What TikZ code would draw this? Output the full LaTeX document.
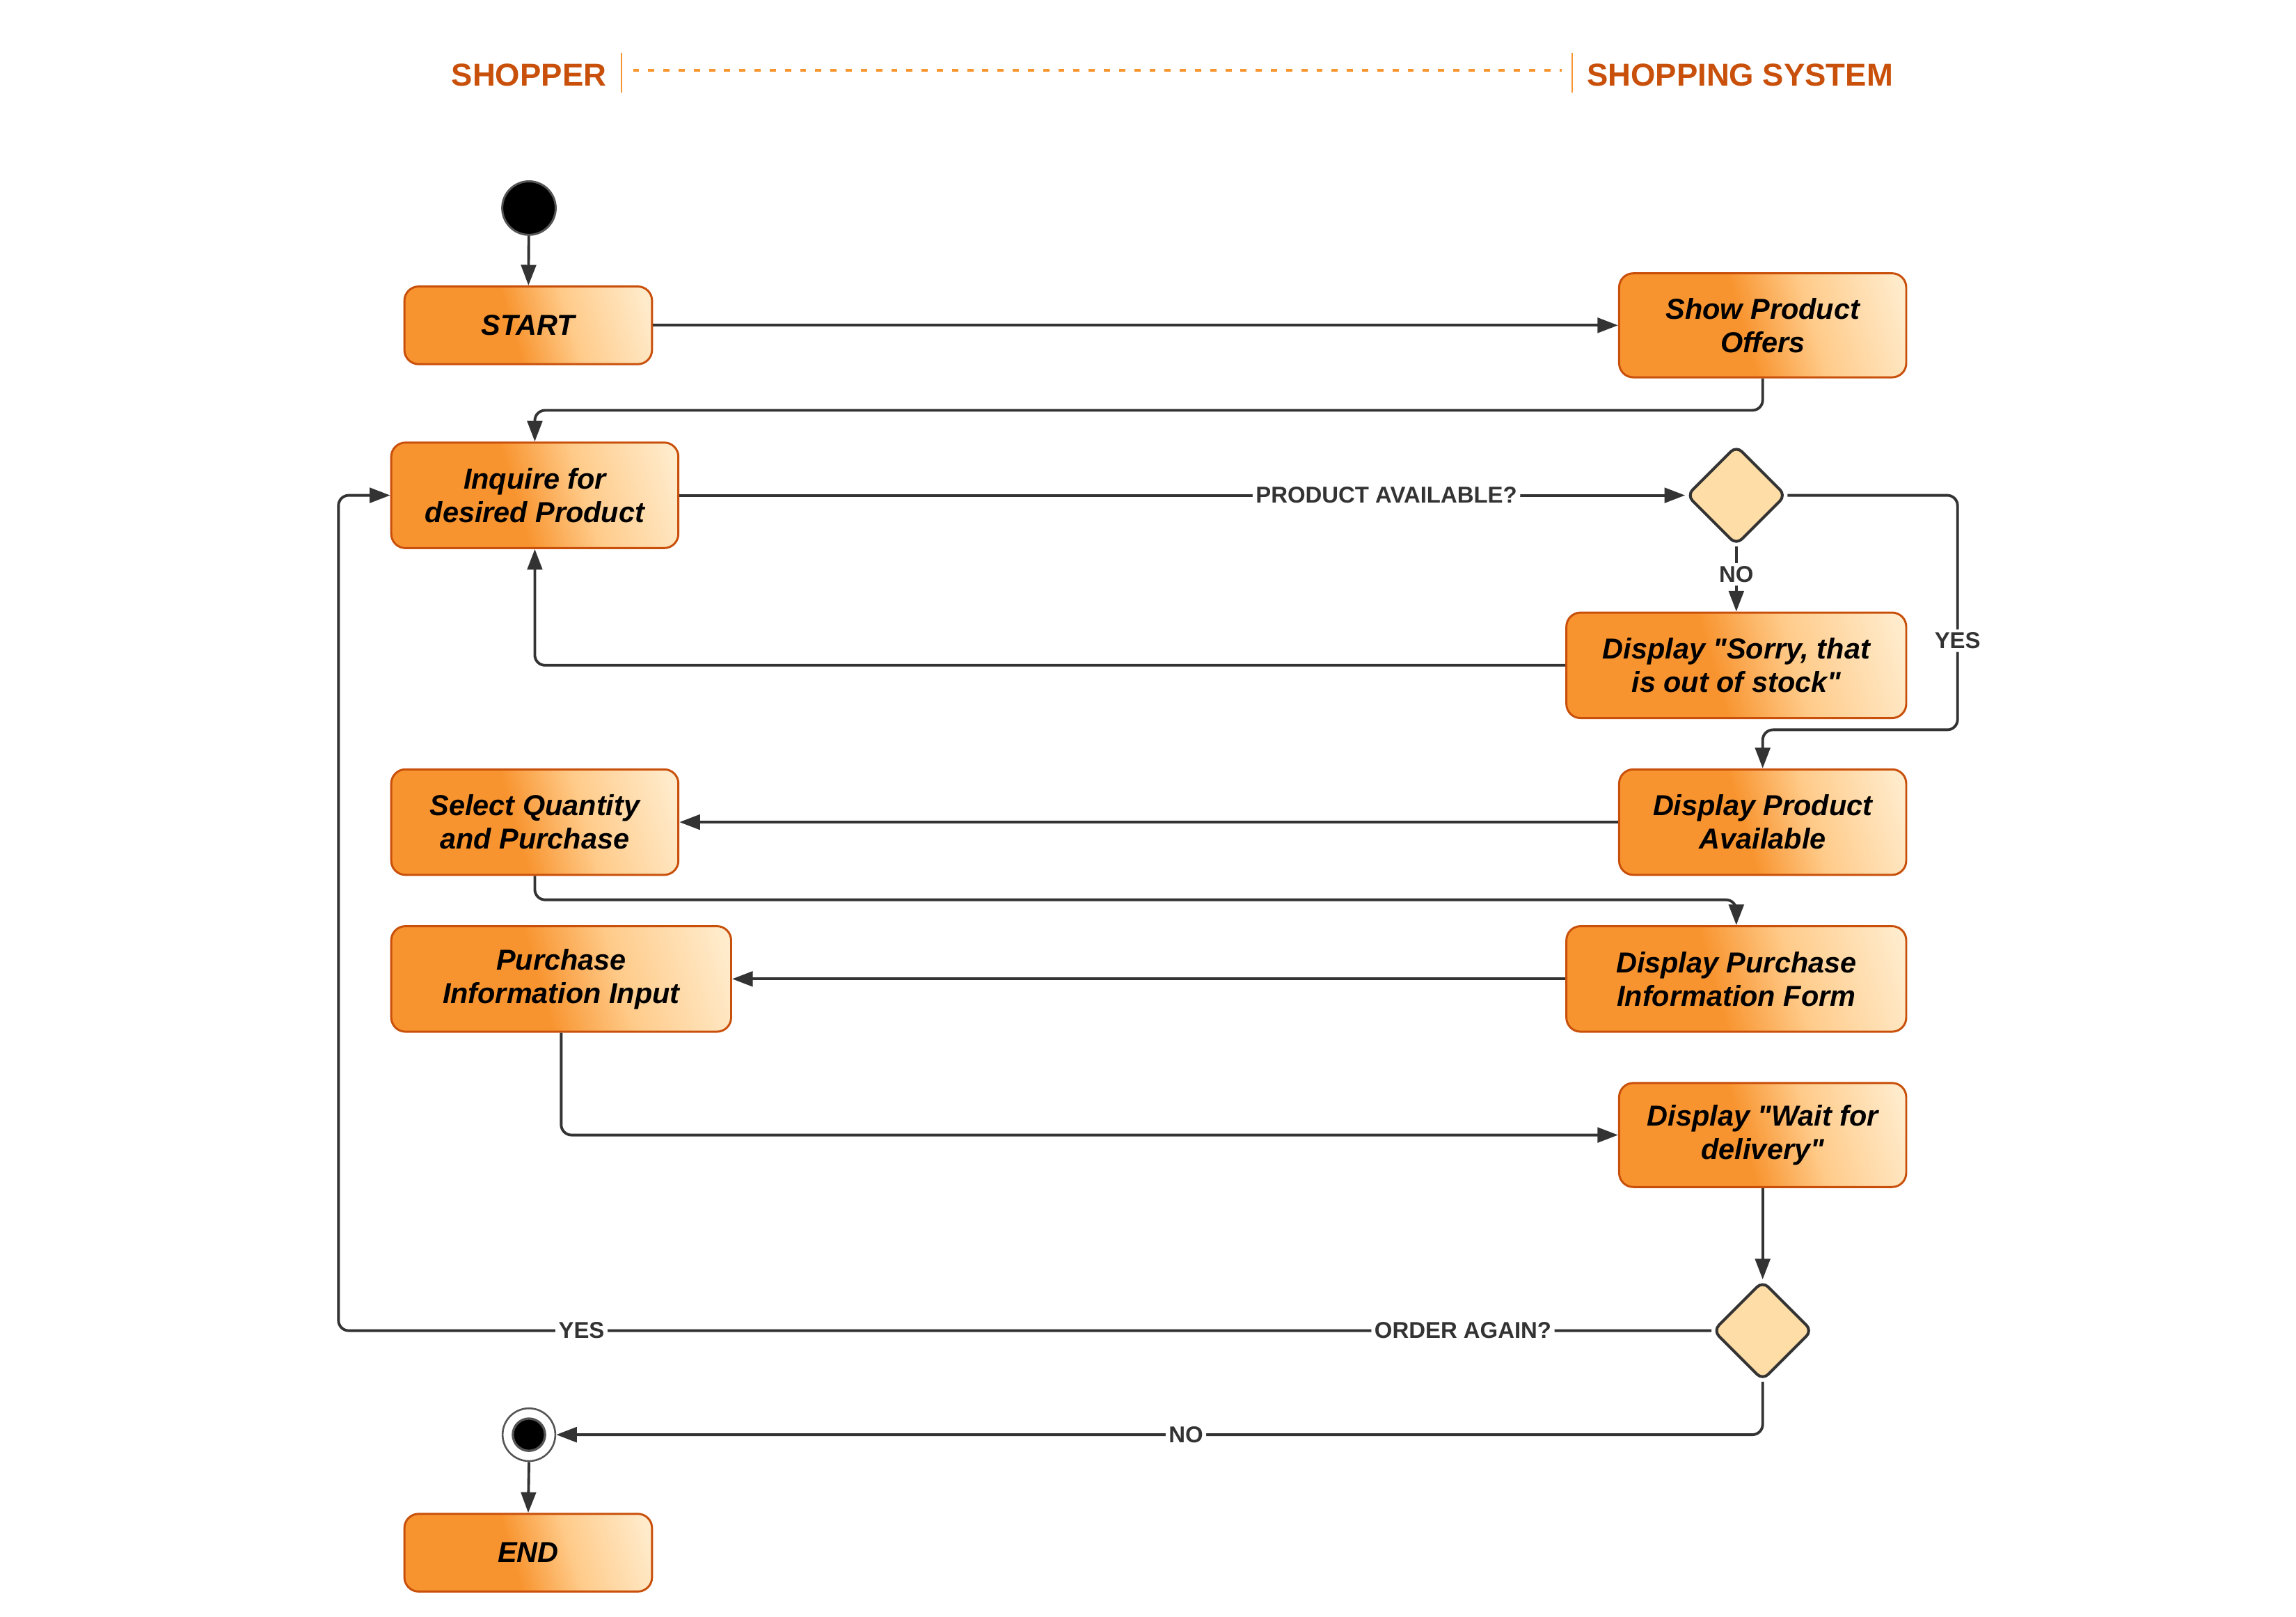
\documentclass[tikz,border=0pt]{standalone}
\usepackage{fontspec}
\setmainfont{Liberation Sans}
\usetikzlibrary{arrows.meta,shapes.geometric}
\definecolor{boxor}{HTML}{F8942F}
\definecolor{boxmid}{HTML}{FFCB8A}
\definecolor{boxcream}{HTML}{FFEDCF}
\definecolor{boxborder}{HTML}{C9500B}
\definecolor{hdr}{HTML}{C8500A}
\definecolor{hdrline}{HTML}{F7952F}
\definecolor{lnk}{HTML}{333333}
\definecolor{dfill}{HTML}{FFDDA6}
\definecolor{ringgray}{HTML}{555555}
\newcommand\strq{\XeTeXglyph\XeTeXcharglyph"22\relax}
\pgfdeclarehorizontalshading{boxgrad}{100bp}{color(0bp)=(boxor); color(46bp)=(boxor); color(60bp)=(boxmid); color(80bp)=(boxcream); color(100bp)=(boxcream)}
\tikzset{
  actbox/.style={rectangle, rounded corners=5.5pt, draw=boxborder, line width=0.8pt,
    shading=boxgrad, shading angle=16, align=center, inner sep=2pt,
    font=\fontsize{11.2}{13}\selectfont\bfseries\itshape, text=black},
  wbox/.style={actbox, minimum width=3.92cm, minimum height=1.44cm},
  wwbox/.style={actbox, minimum width=4.64cm, minimum height=1.44cm},
  sbox/.style={actbox, minimum width=3.38cm, minimum height=1.06cm},
  decis/.style={diamond, aspect=1, draw=lnk, line width=1.1pt, fill=dfill,
    rounded corners=3pt, minimum width=1.36cm, minimum height=1.36cm, inner sep=0pt},
  flow/.style={draw=lnk, line width=1.05pt, rounded corners=4pt,
    -{Triangle[length=8pt,width=5.8pt]}},
  lbl/.style={fill=white, inner sep=1.2pt, text=lnk,
    font=\fontsize{8.9}{10}\selectfont\bfseries},
  hdrtext/.style={text=hdr, font=\fontsize{12.3}{14}\selectfont\bfseries, inner sep=0pt},
}
\begin{document}
\begin{tikzpicture}[x=0.02cm, y=-0.02cm]
\useasboundingbox (0,0) rectangle (1567,1103.4);

% header
\node[hdrtext] (hshop) at (361,51) {SHOPPER};
\node[hdrtext] (hsys) at (1187.5,51) {SHOPPING SYSTEM};
\coordinate (b1t) at (424,36); \coordinate (b1b) at (424,63);
\coordinate (b2t) at (1073,36); \coordinate (b2b) at (1073,63);
\coordinate (dl) at (432,48); \coordinate (dr) at (1066,48);
\draw[hdrline, line width=0.6pt] (b1t) -- (b1b);
\draw[hdrline, line width=0.6pt] (b2t) -- (b2b);
\draw[hdrline, line width=1.1pt, dash pattern=on 2.4pt off 3.5pt] (dl) -- (dr);

% nodes
\node[circle, fill=black, draw=ringgray, line width=0.8pt, minimum size=0.73cm, inner sep=0pt] (sdot) at (361,142) {};
\node[sbox] (start) at (360.5,222) {START};
\node[actbox, minimum width=3.92cm, minimum height=1.42cm] (offers) at (1203,222) {Show Product\\Offers};
\node[wbox] (inq) at (365,338) {Inquire for\\desired Product};
\node[decis] (d1) at (1185,338) {};
\node[wwbox] (sorry) at (1185,454) {Display \strq Sorry, that\\is out of stock\strq};
\node[wbox] (dpa) at (1203,561) {Display Product\\Available};
\node[wbox] (sel) at (365,561) {Select Quantity\\and Purchase};
\node[wwbox] (dpif) at (1185,668) {Display Purchase\\Information Form};
\node[wwbox] (pii) at (383,668) {Purchase\\Information Input};
\node[actbox, minimum width=3.92cm, minimum height=1.42cm] (wait) at (1203,774.5) {Display \strq Wait for\\delivery\strq};
\node[decis] (d2) at (1203,908) {};
\node[circle, fill=white, draw=ringgray, line width=0.7pt, minimum size=0.72cm, inner sep=0pt] (edot) at (361,979) {};
\node[circle, fill=black, draw=ringgray, line width=0.9pt, minimum size=0.44cm, inner sep=0pt] (edotin) at (361,979) {};
\node[sbox] (end) at (360.5,1059.5) {END};

% connectors
\draw[flow] (sdot) -- (start);
\draw[flow] (start) -- (offers);
\draw[flow] (offers.south) -- (offers.south |- 0,280) -| (inq.north);
\draw[flow] (inq.east) -- node[lbl, pos=0.703] {PRODUCT AVAILABLE?} (d1.west);
\draw[flow] (d1.south) -- node[lbl, pos=0.43] {NO} (sorry.north);
\draw[flow] (d1.east) -| node[lbl, pos=0.81] {YES} (1336,498) -| (dpa.north);
\draw[flow] (sorry.west) -| (inq.south);
\draw[flow] (d2.west) -- node[lbl, pos=0.181] {ORDER AGAIN?} node[lbl, pos=0.823] {YES} (231,908) |- (inq.west);
\draw[flow] (dpa.west) -- (sel.east);
\draw[flow] (sel.south) -- (sel.south |- 0,614) -| (dpif.north);
\draw[flow] (dpif.west) -- (pii.east);
\draw[flow] (pii.south) |- (wait.west);
\draw[flow] (wait.south) -- (d2.north);
\draw[flow] (d2.south) |- node[lbl, pos=0.739] {NO} (edot.east);
\draw[flow] (edot.south) -- (end.north);
\end{tikzpicture}
\end{document}
